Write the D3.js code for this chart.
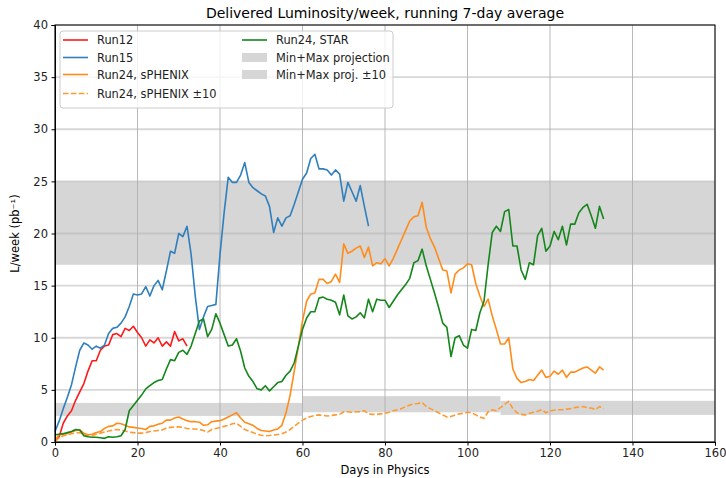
<!DOCTYPE html>
<html lang="en">
	<head>
		<meta charset="utf-8">
		<title>Delivered Luminosity</title>
		<script type="text/javascript" src="https://d3js.org/d3.v7.min.js"></script>
		<style type="text/css">
            body{margin:0;background:#fff;font-family:"DejaVu Sans",sans-serif;}
            .axis text{font-size:11.5px;font-family:"DejaVu Sans",sans-serif;fill:#222;}
            .axis path,.axis line{stroke:#000;}
		</style>
	</head>
	<body>
    <div id="chart1"></div>
		<script type="text/javascript">
            //values, one per day starting at day 0
            var run12 = [0.1,0.5,1.8,2.5,3.0,4.0,4.8,5.6,6.8,7.8,7.8,8.8,9.2,9.3,10.3,10.4,10.1,10.9,10.7,11.1,
                10.5,10.0,9.2,9.8,9.5,10.0,9.2,9.6,9.2,10.6,9.7,9.9,9.2]
            var run15 = [1.0,2.0,3.2,4.3,5.5,7.2,8.8,9.5,9.3,8.9,9.2,9.0,9.3,10.4,10.9,11.0,11.4,12.0,13.0,14.2,
                14.1,14.2,14.9,14.0,15.0,15.5,14.6,16.4,18.3,18.1,20.0,19.7,20.7,18.0,14.0,10.8,12.0,13.0,13.1,13.2,
                18.0,22.0,25.4,24.9,24.9,25.6,26.8,24.9,24.4,24.1,23.8,23.6,22.6,20.1,21.5,20.7,21.5,21.7,22.8,24.0,
                25.2,25.8,27.2,27.6,26.2,26.2,26.1,25.6,26.1,25.7,23.1,24.9,24.0,23.1,24.6,22.6,20.7]
            var sphenix = [0.2,0.7,0.75,0.8,0.95,1.1,1.15,0.85,0.7,0.75,0.9,1.0,1.3,1.5,1.55,1.8,1.75,1.6,1.45,1.4,
                1.35,1.3,1.2,1.5,1.55,1.7,1.8,2.1,2.1,2.3,2.4,2.2,2.05,1.95,1.95,1.9,1.6,1.65,1.95,2.0,
                2.05,2.2,2.4,2.6,2.8,2.3,1.9,1.75,1.6,1.3,1.1,1.05,1.0,1.15,1.25,1.6,2.8,4.5,6.8,9.2,
                11.6,13.5,14.2,14.3,15.6,15.6,15.2,15.4,16.1,15.3,19.0,18.1,18.3,18.6,18.8,17.7,18.7,16.9,17.2,17.1,
                17.6,16.9,17.6,18.5,19.4,20.3,21.2,21.6,21.7,23.0,20.6,19.5,18.7,17.6,16.5,16.4,14.3,16.1,16.5,16.7,
                17.1,17.0,15.2,14.0,13.0,13.7,12.1,10.8,9.4,9.4,10.0,7.0,6.1,5.7,5.8,6.0,5.9,6.4,6.9,6.2,
                6.3,6.8,6.5,6.9,6.2,6.7,6.7,6.9,7.1,7.2,6.9,6.6,7.2,6.9]
            var sphenixPm10 = [0.05,0.4,0.6,0.7,0.8,0.85,0.9,0.7,0.6,0.6,0.75,0.85,0.95,1.05,1.15,1.2,1.15,1.05,0.95,0.9,
                0.85,0.85,0.9,1.0,1.05,1.1,1.15,1.35,1.4,1.45,1.45,1.4,1.3,1.25,1.25,1.2,1.1,0.95,1.2,1.3,
                1.4,1.5,1.6,1.75,1.8,1.5,1.2,1.05,0.9,0.75,0.65,0.6,0.62,0.67,0.72,0.8,0.95,1.2,1.5,1.8,
                2.1,2.3,2.45,2.55,2.6,2.55,2.5,2.55,2.6,2.65,2.9,2.9,2.85,2.9,2.9,3.0,2.7,2.65,2.65,2.7,
                2.75,2.85,3.0,3.1,3.2,3.4,3.55,3.65,3.7,3.8,3.4,3.2,3.0,2.8,2.6,2.4,2.45,2.6,2.7,2.75,
                2.85,2.8,2.6,2.4,2.25,2.9,3.1,3.0,3.3,3.6,3.9,3.2,2.8,2.65,2.6,2.75,2.85,2.95,3.1,2.8,
                3.0,3.05,3.1,3.1,3.15,3.2,3.3,3.35,3.4,3.3,3.25,3.1,3.4,3.2]
            var star = [0.7,0.75,0.8,0.9,1.0,1.2,1.15,0.6,0.5,0.45,0.45,0.4,0.35,0.5,0.45,0.5,0.6,1.2,3.0,3.5,
                4.0,4.5,5.1,5.4,5.7,5.9,6.0,7.0,7.9,7.8,8.6,8.8,8.4,9.2,10.4,11.6,11.8,10.1,10.8,12.3,
                11.4,10.3,9.2,9.3,9.9,8.7,7.1,6.3,5.8,5.1,5.0,5.4,4.9,5.3,5.7,5.8,6.4,6.8,7.6,9.2,
                10.8,11.9,12.5,12.5,13.8,13.9,13.7,13.6,13.4,12.2,14.1,12.1,11.8,12.0,12.4,11.9,13.7,12.5,13.7,13.6,
                13.6,12.9,13.5,14.1,14.6,15.1,15.7,17.2,17.4,18.5,16.9,15.6,14.3,12.9,11.4,11.0,8.2,10.0,10.2,9.3,
                9.0,10.8,10.7,12.4,13.5,17.0,20.1,20.7,20.2,22.1,22.3,18.8,18.8,16.5,15.6,17.2,17.0,19.8,20.5,18.3,
                18.8,20.2,19.4,20.7,18.9,20.9,20.9,22.0,22.5,22.8,21.7,20.5,22.6,21.4]

            //projection bands
            var projLo = 17, projHi = 25
            var pm10Edges = [0,60,108,160]
            var pm10Lo = [2.5,2.85,2.6]
            var pm10Hi = [3.75,4.4,3.95]

            var xTicks = [0,20,40,60,80,100,120,140,160]
            var yTicks = [0,5,10,15,20,25,30,35,40]

            //note: can't call these top/left etc, window.top is read only
            var W = 726, H = 478
            var mL = 55, mR = 715, mT = 25, mB = 442

            var svg = d3.select("#chart1").append("svg")
                .attr("width",W).attr("height",H)

            var xScale = d3.scaleLinear().domain([0,160]).range([mL,mR])
            var yScale = d3.scaleLinear().domain([0,40]).range([mB,mT])

            //grey bands first so the grid sits on top
            svg.append("rect")
                .attr("x",xScale(0)).attr("width",xScale(160)-xScale(0))
                .attr("y",yScale(projHi)).attr("height",yScale(projLo)-yScale(projHi))
                .attr("fill","#d6d6d6")
            svg.selectAll(".pm10")
                .data(pm10Lo)
                .enter()
                .append("rect")
                .attr("class","pm10")
                .attr("x",function(d,i){ return xScale(pm10Edges[i]) })
                .attr("width",function(d,i){ return xScale(pm10Edges[i+1])-xScale(pm10Edges[i]) })
                .attr("y",function(d,i){ return yScale(pm10Hi[i]) })
                .attr("height",function(d,i){ return yScale(d)-yScale(pm10Hi[i]) })
                .attr("fill","#d6d6d6")

            //grid
            svg.selectAll(".hgrid").data(yTicks).enter().append("line")
                .attr("class","hgrid")
                .attr("x1",mL).attr("x2",mR)
                .attr("y1",function(d){ return yScale(d) }).attr("y2",function(d){ return yScale(d) })
                .attr("stroke","#b8b8b8").attr("stroke-opacity",0.55).attr("stroke-width",1.8)
            svg.selectAll(".vgrid").data(xTicks).enter().append("line")
                .attr("class","vgrid")
                .attr("y1",mT).attr("y2",mB)
                .attr("x1",function(d){ return xScale(d) }).attr("x2",function(d){ return xScale(d) })
                .attr("stroke","#b0b0b0").attr("stroke-width",0.9)

            //lines
            var line = d3.line()
                .x(function(d,i){ return xScale(i) })
                .y(function(d){ return yScale(d) })

            var series = [
                {data:run12, color:"#ff1a1a", dash:null},
                {data:run15, color:"#2f7fbd", dash:null},
                {data:sphenix, color:"#ff8c1a", dash:null},
                {data:sphenixPm10, color:"#ff9a30", dash:"5.5,2.4"},
                {data:star, color:"#14861a", dash:null}
            ]
            svg.selectAll(".series")
                .data(series)
                .enter()
                .append("path")
                .attr("class","series")
                .attr("d",function(d){ return line(d.data) })
                .attr("fill","none")
                .attr("stroke",function(d){ return d.color })
                .attr("stroke-width",1.6)
                .attr("stroke-dasharray",function(d){ return d.dash })
                .attr("stroke-linejoin","round")

            //axes
            svg.append("g")
                .attr("class","axis")
                .attr("transform","translate(0,"+mB+")")
                .call(d3.axisBottom(xScale).tickValues(xTicks).tickSize(3.5).tickPadding(3.5))
            svg.append("g")
                .attr("class","axis")
                .attr("transform","translate("+mL+",0)")
                .call(d3.axisLeft(yScale).tickValues(yTicks).tickSize(3.5).tickPadding(3.5))
            svg.append("rect")
                .attr("x",mL).attr("y",mT).attr("width",mR-mL).attr("height",mB-mT)
                .attr("fill","none").attr("stroke","#000").attr("stroke-width",1)

            //labels
            svg.append("text")
                .attr("x",(mL+mR)/2).attr("y",18)
                .attr("text-anchor","middle")
                .style("font-size","14px")
                .text("Delivered Luminosity/week, running 7-day average")
            svg.append("text")
                .attr("x",(mL+mR)/2).attr("y",474)
                .attr("text-anchor","middle")
                .style("font-size","11.5px")
                .text("Days in Physics")
            svg.append("text")
                .attr("transform","translate(19,"+((mT+mB)/2)+") rotate(-90)")
                .attr("text-anchor","middle")
                .style("font-size","11.5px")
                .text("L/week (pb⁻¹)")

            //legend
            var legend = svg.append("g")
            legend.append("rect")
                .attr("x",60).attr("y",31).attr("width",333).attr("height",77)
                .attr("rx",3)
                .attr("fill","#fff").attr("fill-opacity",0.8)
                .attr("stroke","#cccccc").attr("stroke-width",1)

            var legendItems = [
                {label:"Run12", color:"#ff1a1a", kind:"line", col:0, row:0},
                {label:"Run15", color:"#2f7fbd", kind:"line", col:0, row:1},
                {label:"Run24, sPHENIX", color:"#ff8c1a", kind:"line", col:0, row:2},
                {label:"Run24, sPHENIX ±10", color:"#ff9a30", kind:"dash", col:0, row:3},
                {label:"Run24, STAR", color:"#14861a", kind:"line", col:1, row:0},
                {label:"Min+Max projection", color:"#d6d6d6", kind:"patch", col:1, row:1},
                {label:"Min+Max proj. ±10", color:"#d6d6d6", kind:"patch", col:1, row:2}
            ]
            var rowY = [40,57.5,74.5,93.5]
            var colX = [63,242]

            legendItems.forEach(function(d){
                var x0 = colX[d.col], y0 = rowY[d.row]
                if(d.kind=="patch"){
                    legend.append("rect")
                        .attr("x",x0).attr("y",y0-4.5).attr("width",25).attr("height",9)
                        .attr("fill",d.color)
                } else {
                    legend.append("line")
                        .attr("x1",x0).attr("x2",x0+25).attr("y1",y0).attr("y2",y0)
                        .attr("stroke",d.color).attr("stroke-width",1.6)
                        .attr("stroke-dasharray",d.kind=="dash" ? "5.5,2.4" : null)
                }
                legend.append("text")
                    .attr("x",x0+34).attr("y",y0+4)
                    .style("font-size","11.4px")
                    .attr("fill","#222")
                    .text(d.label)
            })
        </script>
	</body>
</html>
